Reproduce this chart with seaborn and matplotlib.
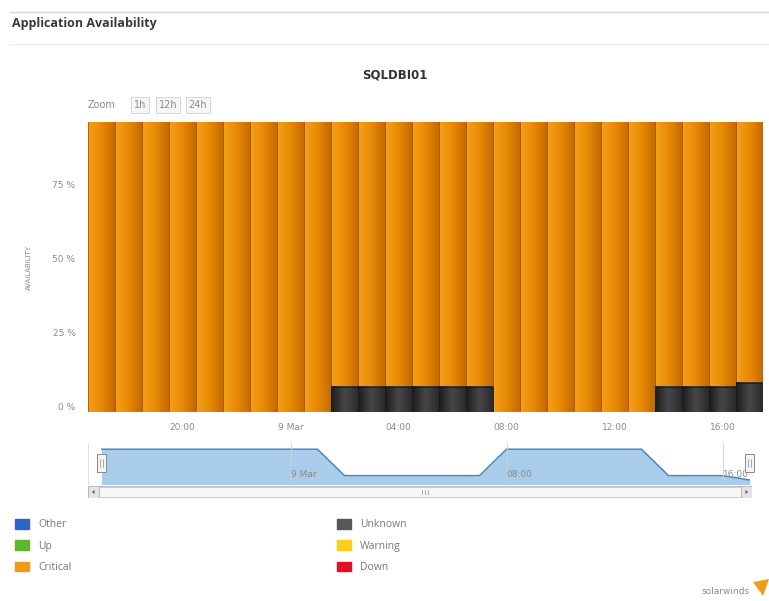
import numpy as np
import pandas as pd
import matplotlib
matplotlib.use("Agg")
import matplotlib.pyplot as plt
import matplotlib.transforms as mtransforms
from matplotlib.patches import Rectangle, Patch, Polygon
from matplotlib.lines import Line2D
from matplotlib.colors import to_rgb
import seaborn as sns

# data
hours = ["08 Mar 17:00", "08 Mar 18:00", "08 Mar 19:00", "08 Mar 20:00", "08 Mar 21:00",
         "08 Mar 22:00", "08 Mar 23:00", "09 Mar 00:00", "09 Mar 01:00", "09 Mar 02:00",
         "09 Mar 03:00", "09 Mar 04:00", "09 Mar 05:00", "09 Mar 06:00", "09 Mar 07:00",
         "09 Mar 08:00", "09 Mar 09:00", "09 Mar 10:00", "09 Mar 11:00", "09 Mar 12:00",
         "09 Mar 13:00", "09 Mar 14:00", "09 Mar 15:00", "09 Mar 16:00", "09 Mar 17:00"]
unknown_pct = [0, 0, 0, 0, 0, 0, 0, 0, 0, 8.5,
               8.5, 8.5, 8.5, 8.5, 8.5, 0, 0, 0, 0, 0,
               0, 8.5, 8.5, 8.5, 9.9]
critical_pct = [100 - u for u in unknown_pct]
total_pct = [100] * len(hours)

tick_times = ["08 Mar 20:00", "09 Mar 00:00", "09 Mar 04:00", "09 Mar 08:00", "09 Mar 12:00", "09 Mar 16:00"]
tick_labels = ["20:00", "9 Mar", "04:00", "08:00", "12:00", "16:00"]
nav_times = ["09 Mar 00:00", "09 Mar 08:00", "09 Mar 16:00"]
nav_labels = ["9 Mar", "08:00", "16:00"]

legend_left = ["Other", "Up", "Critical"]
legend_left_colors = ["#2f63c9", "#5cb630", "#f39a1e"]
legend_right = ["Unknown", "Warning", "Down"]
legend_right_colors = ["#575757", "#ffcc22", "#e0102a"]

W, H = 769, 601
def fx(px):
    return px / W
def fy(py):
    return 1 - py / H

sns.set_theme(style="white")
plt.rcParams['font.family'] = ['DejaVu Sans']

fig = plt.figure(figsize=(W / 100, H / 100), dpi=100)
fig.patch.set_facecolor("white")

# header
fig.add_artist(Line2D([fx(10), 1], [fy(12), fy(12)], color="#d6d6d6", lw=1))
fig.add_artist(Line2D([fx(10), 1], [fy(44), fy(44)], color="#ececec", lw=1))
fig.text(fx(12), fy(23), "Application Availability", fontsize=9, fontweight="bold",
         color="#3a3a3a", va="center", family="Open Sans")
fig.text(fx(395), fy(75), "SQLDBI01", fontsize=8.5, fontweight="bold", color="#333333",
         ha="center", va="center")

# zoom buttons
fig.text(fx(88), fy(105), "Zoom", fontsize=7, color="#8a8a8a", va="center")
for lbl, cx in [("1h", 140), ("12h", 168), ("24h", 198)]:
    fig.text(fx(cx), fy(105), lbl, fontsize=7, color="#8a8a8a", ha="center", va="center",
             bbox=dict(boxstyle="square,pad=0.3", fc="#f6f6f6", ec="#cfcfcf", lw=0.6))

# main chart
ax = fig.add_axes([fx(88), fy(412), fx(763) - fx(88), fy(122) - fy(412)])
sns.barplot(x=hours, y=total_pct, color="#e8890c", width=1, saturation=1,
            edgecolor="#a95a00", linewidth=0.6, ax=ax)
n_orange = len(ax.patches)
sns.barplot(x=hours, y=unknown_pct, color="#333333", width=1, saturation=1,
            edgecolor="#1a1a1a", linewidth=0.6, ax=ax)


def gradient(c_left, c_mid, c_right, n=64):
    a, b, c = np.array(to_rgb(c_left)), np.array(to_rgb(c_mid)), np.array(to_rgb(c_right))
    t = np.linspace(0, 1, n)[:, None]
    g = np.where(t < 0.5, a + (b - a) * (t / 0.5), b + (c - b) * ((t - 0.5) / 0.5))
    return g[None, :, :]


orange_grad = gradient("#f5a01c", "#e98a05", "#c46a00")
dark_grad = gradient("#1c1c1c", "#474747", "#2a2a2a")
for i, p in enumerate(ax.patches):
    if p.get_height() <= 0:
        continue
    x0, y0 = p.get_x(), p.get_y()
    x1, y1 = x0 + p.get_width(), y0 + p.get_height()
    grad = orange_grad if i < n_orange else dark_grad
    z = 2 if i < n_orange else 4
    ax.imshow(grad, extent=[x0, x1, y0, y1], aspect="auto", interpolation="bicubic", zorder=z)
    p.set_facecolor("none")
    p.set_zorder(z + 0.5)

ax.set_xlim(-0.5, len(hours) - 0.5)
ax.set_ylim(0, 98)
ax.set_xticks([hours.index(t) for t in tick_times])
ax.set_xticklabels(tick_labels)
ax.set_yticks([0, 25, 50, 75])
ax.set_yticklabels(["0 %", "25 %", "50 %", "75 %"])
ax.tick_params(axis="both", length=0, labelsize=6.5, colors="#8a8a8a")
ax.tick_params(axis="x", pad=8)
ax.tick_params(axis="y", pad=9)
for t in ax.get_yticklabels():
    t.set_va("bottom")
ax.set_xlabel("")
ax.set_ylabel("AVAILABILITY", fontsize=5, color="#8a8a8a")
ax.yaxis.set_label_coords(-0.083, 0.5)
for s in ax.spines.values():
    s.set_visible(False)

# navigator
ax_nav = fig.add_axes([fx(88), fy(484), fx(755) - fx(88), fy(443) - fy(484)])
pos = list(range(len(hours)))
ax_nav.fill_between(pos, critical_pct, 0, color="#a9cceb", lw=0)
sns.lineplot(x=pos, y=critical_pct, color="#4a88c4", lw=1.1, ax=ax_nav)
ax_nav.set_xlim(-0.5, len(hours) - 0.5 - 8 / 27)
ax_nav.set_ylim(88.8, 102)
ax_nav.set_xticks([hours.index(t) for t in nav_times])
ax_nav.set_xticklabels(nav_labels)
for t in ax_nav.get_xticklabels():
    t.set_ha("left")
ax_nav.tick_params(axis="x", length=0, pad=-10, labelsize=6.5, colors="#8a8a8a")
ax_nav.set_yticks([])
ax_nav.grid(axis="x", color="#d0d0d0", lw=0.6)
ax_nav.set_axisbelow(False)
for k, s in ax_nav.spines.items():
    s.set_visible(k == "left")
ax_nav.spines["left"].set_color("#d8d8d8")
ax_nav.spines["left"].set_linewidth(0.6)

blend = mtransforms.blended_transform_factory(ax_nav.transData, ax_nav.transAxes)
for hx in [0, len(hours) - 1]:
    ax_nav.add_patch(Rectangle((hx - 0.15, 0.3), 0.3, 0.42, transform=blend, fc="#f4f4f4",
                               ec="#8a8a8a", lw=0.7, zorder=6))
    for dx in (-0.05, 0.05):
        ax_nav.add_line(Line2D([hx + dx, hx + dx], [0.42, 0.6], transform=blend,
                               color="#8a8a8a", lw=0.5, zorder=7))

# scrollbar
ax_sb = fig.add_axes([fx(88), fy(498), fx(752) - fx(88), fy(486) - fy(498)])
ax_sb.set_xlim(0, 664)
ax_sb.set_ylim(0, 12)
ax_sb.axis("off")
ax_sb.add_patch(Rectangle((0, 0), 664, 12, fc="#eeeeee", ec="#bdbdbd", lw=0.7))
ax_sb.add_patch(Rectangle((11, 1), 642, 10, fc="#f7f7f7", ec="#c8c8c8", lw=0.6))
for bx in (0, 653):
    ax_sb.add_patch(Rectangle((bx, 0), 11, 12, fc="#e4e4e4", ec="#b5b5b5", lw=0.6))
ax_sb.add_patch(Polygon([[6.5, 4], [6.5, 8], [4, 6]], fc="#555555", lw=0))
ax_sb.add_patch(Polygon([[657.5, 4], [657.5, 8], [660, 6]], fc="#555555", lw=0))
for gx in (334, 337, 340):
    ax_sb.add_line(Line2D([gx, gx], [4, 8], color="#999999", lw=0.6))

# legend
leg_kw = dict(loc="upper left", frameon=False, labelcolor="#777777",
              handlelength=1.3, handleheight=1.05, handletextpad=0.9, labelspacing=0.95,
              borderpad=0, borderaxespad=0, prop={"family": "Open Sans", "size": 7.5})
fig.legend(handles=[Patch(color=c, label=l) for c, l in zip(legend_left_colors, legend_left)],
           bbox_to_anchor=(fx(15), fy(519)), **leg_kw)
fig.legend(handles=[Patch(color=c, label=l) for c, l in zip(legend_right_colors, legend_right)],
           bbox_to_anchor=(fx(337), fy(519)), **leg_kw)

# logo
fig.text(fx(750), fy(592), "solarwinds", fontsize=6.5, color="#8c8c8c", ha="right", va="center")
fig.add_artist(Polygon([[fx(753), fy(582)], [fx(769), fy(579)], [fx(763), fy(596)]],
                       closed=True, fc="#f39a1e", lw=0, transform=fig.transFigure))

fig.savefig("out.png", dpi=100)
